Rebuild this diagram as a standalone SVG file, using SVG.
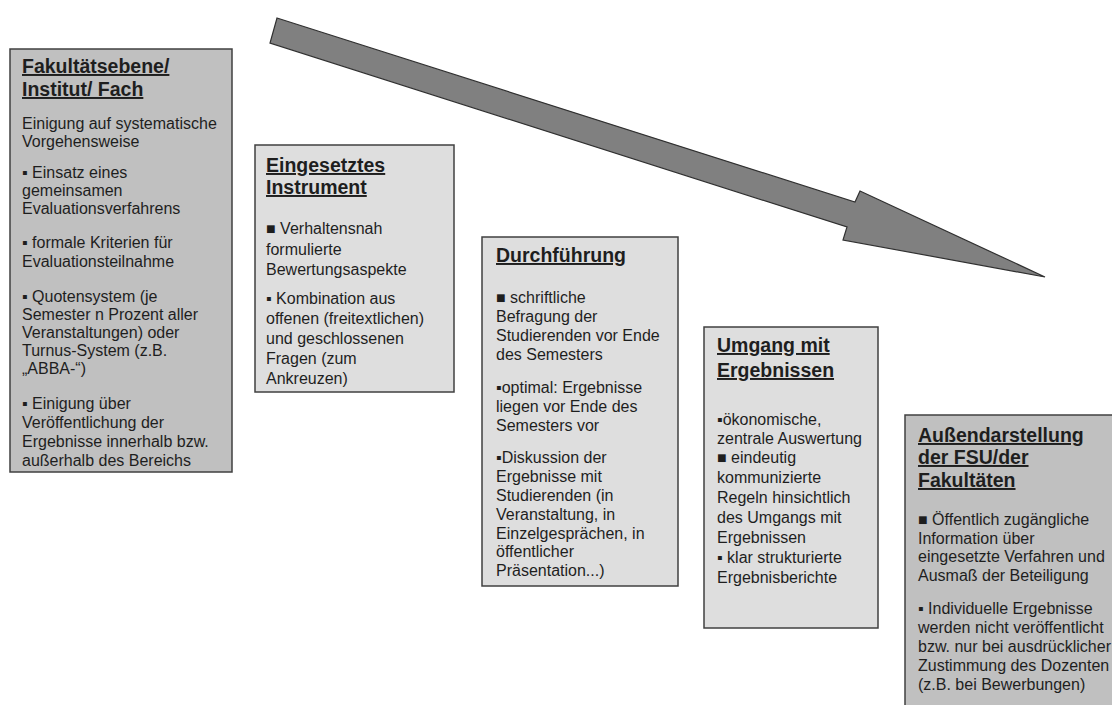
<svg xmlns="http://www.w3.org/2000/svg" width="1112" height="705" viewBox="0 0 1112 705">
<style>
.box{stroke:#404040;stroke-width:1.5}
.dark{fill:#c0c0c0}
.light{fill:#dedede}
.t{font-family:"Liberation Sans",Arial,sans-serif;font-size:16px;fill:#1e1e1e}
.h{font-family:"Liberation Sans",Arial,sans-serif;font-size:19.5px;font-weight:bold;fill:#1e1e1e;text-decoration:underline}
</style>
<rect width="1112" height="705" fill="#ffffff"/>
<g id="connectors">
<polygon points="277,18 855,202 860,191 1045,277 843,240 847,227 270,43" fill="#808080" stroke="#303030" stroke-width="1.2" stroke-linejoin="miter"/>
</g>
<g id="fakultaet">
<rect class="box dark" x="10" y="49" width="222" height="423"/>
<text class="h"><tspan x="22" y="73">Fakultätsebene/</tspan><tspan x="22" y="96">Institut/ Fach</tspan></text>
<text class="t">
<tspan x="22" y="129">Einigung auf systematische</tspan>
<tspan x="22" y="147">Vorgehensweise</tspan>
<tspan x="22" y="178">▪ Einsatz eines</tspan>
<tspan x="22" y="196">gemeinsamen</tspan>
<tspan x="22" y="214">Evaluationsverfahrens</tspan>
<tspan x="22" y="248">▪ formale Kriterien für</tspan>
<tspan x="22" y="267">Evaluationsteilnahme</tspan>
<tspan x="22" y="302">▪ Quotensystem (je</tspan>
<tspan x="22" y="320">Semester n Prozent aller</tspan>
<tspan x="22" y="338">Veranstaltungen) oder</tspan>
<tspan x="22" y="356">Turnus-System (z.B.</tspan>
<tspan x="22" y="374">„ABBA-“)</tspan>
<tspan x="22" y="409">▪ Einigung über</tspan>
<tspan x="22" y="428">Veröffentlichung der</tspan>
<tspan x="22" y="447">Ergebnisse innerhalb bzw.</tspan>
<tspan x="22" y="466">außerhalb des Bereichs</tspan>
</text>
</g>
<g id="instrument">
<rect class="box light" x="255" y="145" width="199" height="247"/>
<text class="h"><tspan x="266" y="172">Eingesetztes</tspan><tspan x="266" y="194">Instrument</tspan></text>
<text class="t">
<tspan x="266" y="234">■ Verhaltensnah</tspan>
<tspan x="266" y="255">formulierte</tspan>
<tspan x="266" y="275">Bewertungsaspekte</tspan>
<tspan x="266" y="304">▪ Kombination aus</tspan>
<tspan x="266" y="324">offenen (freitextlichen)</tspan>
<tspan x="266" y="344">und geschlossenen</tspan>
<tspan x="266" y="364">Fragen (zum</tspan>
<tspan x="266" y="384">Ankreuzen)</tspan>
</text>
</g>
<g id="durchfuehrung">
<rect class="box light" x="482" y="237" width="196" height="349"/>
<text class="h"><tspan x="496" y="262">Durchführung</tspan></text>
<text class="t">
<tspan x="496" y="303">■ schriftliche</tspan>
<tspan x="496" y="322">Befragung der</tspan>
<tspan x="496" y="341">Studierenden vor Ende</tspan>
<tspan x="496" y="360">des Semesters</tspan>
<tspan x="496" y="393">▪optimal: Ergebnisse</tspan>
<tspan x="496" y="412">liegen vor Ende des</tspan>
<tspan x="496" y="431">Semesters vor</tspan>
<tspan x="496" y="463">▪Diskussion der</tspan>
<tspan x="496" y="482">Ergebnisse mit</tspan>
<tspan x="496" y="501">Studierenden (in</tspan>
<tspan x="496" y="520">Veranstaltung, in</tspan>
<tspan x="496" y="539">Einzelgesprächen, in</tspan>
<tspan x="496" y="557">öffentlicher</tspan>
<tspan x="496" y="576">Präsentation...)</tspan>
</text>
</g>
<g id="umgang">
<rect class="box light" x="704" y="327" width="174" height="301"/>
<text class="h"><tspan x="717" y="352">Umgang mit</tspan><tspan x="717" y="377">Ergebnissen</tspan></text>
<text class="t">
<tspan x="717" y="425">▪ökonomische,</tspan>
<tspan x="717" y="444">zentrale Auswertung</tspan>
<tspan x="717" y="463">■ eindeutig</tspan>
<tspan x="717" y="483">kommunizierte</tspan>
<tspan x="717" y="503">Regeln hinsichtlich</tspan>
<tspan x="717" y="523">des Umgangs mit</tspan>
<tspan x="717" y="543">Ergebnissen</tspan>
<tspan x="717" y="563">▪ klar strukturierte</tspan>
<tspan x="717" y="583">Ergebnisberichte</tspan>
</text>
</g>
<g id="aussendarstellung">
<rect class="box dark" x="905" y="415" width="215" height="300"/>
<text class="h"><tspan x="918" y="442">Außendarstellung</tspan><tspan x="918" y="464">der FSU/der</tspan><tspan x="918" y="487">Fakultäten</tspan></text>
<text class="t">
<tspan x="918" y="525">■ Öffentlich zugängliche</tspan>
<tspan x="918" y="544">Information über</tspan>
<tspan x="918" y="562">eingesetzte Verfahren und</tspan>
<tspan x="918" y="581">Ausmaß der Beteiligung</tspan>
<tspan x="918" y="614">▪ Individuelle Ergebnisse</tspan>
<tspan x="918" y="633">werden nicht veröffentlicht</tspan>
<tspan x="918" y="652">bzw. nur bei ausdrücklicher</tspan>
<tspan x="918" y="671">Zustimmung des Dozenten</tspan>
<tspan x="918" y="690">(z.B. bei Bewerbungen)</tspan>
</text>
</g>
</svg>
